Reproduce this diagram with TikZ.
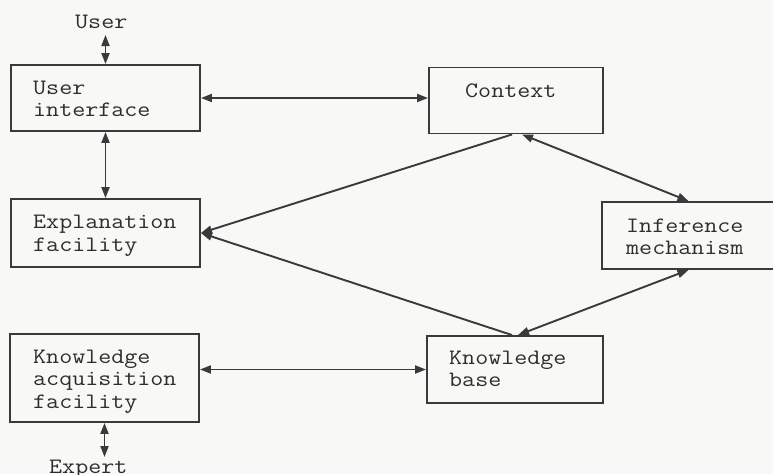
\documentclass[tikz,border=0pt]{standalone}
\usepackage{graphicx}
\usetikzlibrary{arrows.meta,calc}
\definecolor{ink}{HTML}{3A3A3A}
\definecolor{txt}{HTML}{2E2E2E}
\definecolor{paper}{HTML}{F8F8F6}
\newcommand{\mylines}[1]{\scalebox{1.15}[1]{\begin{tabular}[t]{@{}l@{}}#1\end{tabular}}}
\tikzset{
  boxnode/.style={draw=ink, line width=1.9pt, rectangle, inner sep=0pt},
  lbl/.style={inner sep=0pt, anchor=base west, text=txt, font=\ttfamily\fontsize{22}{22.5}\selectfont},
  conn/.style={draw=ink, line width=1.9pt},
  tip/.style={-{Triangle[length=11pt,width=8pt]}},
  dbl/.style={{Triangle[length=11pt,width=8pt]}-{Triangle[length=11pt,width=8pt]}}
}
\begin{document}
\begin{tikzpicture}[x=1pt,y=-1pt]
\useasboundingbox (0,0) rectangle (773,474);
\fill[paper] (0,0) rectangle (773,474);
\clip (0,0) rectangle (773,474);
% boxes
\node[boxnode, minimum width=189pt, minimum height=66pt] (ui)   at (105.5,98)  {};
\node[boxnode, minimum width=174pt, minimum height=66pt] (ctx)  at (516,100.5) {};
\node[boxnode, minimum width=189pt, minimum height=68pt] (expl) at (105.5,233) {};
\node[boxnode, minimum width=173pt, minimum height=67pt] (inf)  at (688.5,235.5) {};
\node[boxnode, minimum width=189pt, minimum height=88pt] (kaf)  at (104.5,378) {};
\node[boxnode, minimum width=176pt, minimum height=67pt] (kb)   at (515,369.5) {};
% texts
\node[lbl] (uit)   at (33,94)   {\mylines{User\\interface}};
\node[lbl] (ctxt)  at (465,97)  {\mylines{Context}};
\node[lbl] (explt) at (33,228.5){\mylines{Explanation\\facility}};
\node[lbl] (inft)  at (626,232) {\mylines{Inference\\mechanism}};
\node[lbl] (kaft)  at (33,363)  {\mylines{Knowledge\\acquisition\\facility}};
\node[lbl] (kbt)   at (449,364) {\mylines{Knowledge\\base}};
\node[lbl] (user)  at (75,28)   {\mylines{User}};
\node[lbl] (expert) at (49,473.5) {\mylines{Expert}};
% connectors
\draw[conn,dbl] ([yshift=-7pt]ui.north |- user.base) -- (ui.north);
\draw[conn,dbl] (ui.south) -- (expl.north);
\draw[conn,dbl] (kaf.south) -- ([yshift=16.5pt]kaf.south |- expert.base);
\draw[conn,dbl] (ui.east) -- (ui.east -| ctx.west);
\draw[conn,dbl] (kaf.east |- kb.west) -- (kb.west);
\draw[conn,tip] ([xshift=-4pt]ctx.south) -- (expl.east);
\draw[conn,tip] ([xshift=-3pt]kb.north) -- (expl.east);
\draw[conn,dbl] ([xshift=6pt]ctx.south) -- (inf.north);
\draw[conn,dbl] ([xshift=3pt]kb.north) -- (inf.south);
\end{tikzpicture}
\end{document}
